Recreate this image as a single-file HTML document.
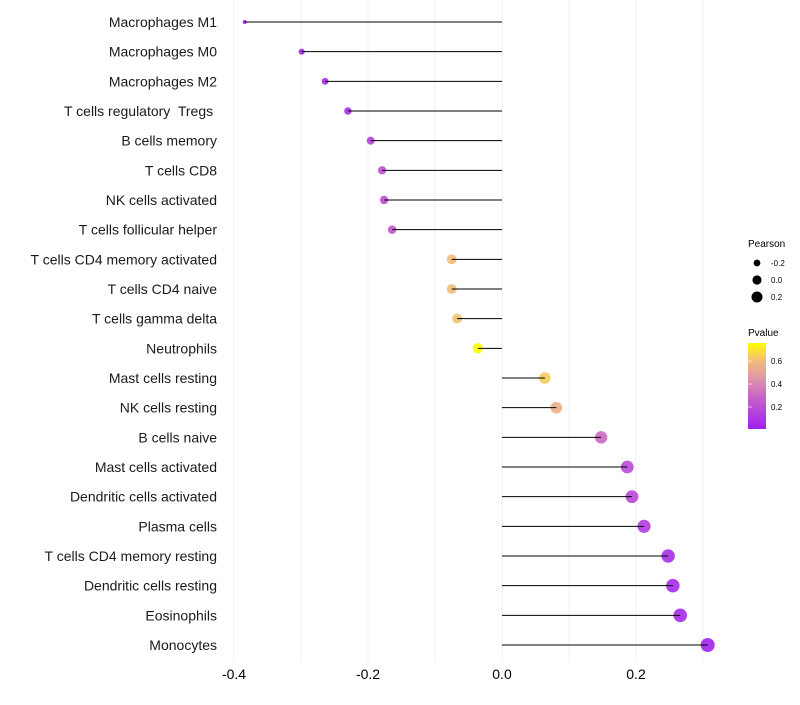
<!DOCTYPE html>
<html><head><meta charset="utf-8"><style>
body{margin:0;background:#fff;font-family:"Liberation Sans",sans-serif}
</style></head><body>
<svg id="chart" width="800" height="700" xmlns="http://www.w3.org/2000/svg">
<defs><linearGradient id="pg" x1="0" y1="1" x2="0" y2="0">
<stop offset="0" stop-color="#A020F0"/><stop offset="0.35" stop-color="#C65FC8"/><stop offset="0.6" stop-color="#E098A8"/><stop offset="0.8" stop-color="#F2BE78"/><stop offset="1" stop-color="#FFFF00"/></linearGradient></defs>
<g id="grid"></g><g id="marks"></g><g id="labels"></g><g id="legend"></g>
</svg>
<script>
const categories=["Macrophages M1","Macrophages M0","Macrophages M2","T cells regulatory  Tregs ","B cells memory","T cells CD8","NK cells activated","T cells follicular helper","T cells CD4 memory activated","T cells CD4 naive","T cells gamma delta","Neutrophils","Mast cells resting","NK cells resting","B cells naive","Mast cells activated","Dendritic cells activated","Plasma cells","T cells CD4 memory resting","Dendritic cells resting","Eosinophils","Monocytes"];
const pearson=[-0.384,-0.299,-0.264,-0.230,-0.196,-0.179,-0.176,-0.164,-0.075,-0.075,-0.067,-0.036,0.064,0.081,0.148,0.187,0.194,0.212,0.248,0.255,0.266,0.307];
const pvalue=[0.01,0.02,0.05,0.08,0.15,0.2,0.2,0.25,0.6,0.6,0.62,0.76,0.64,0.55,0.3,0.18,0.17,0.12,0.07,0.06,0.05,0.02];
const xTicks=[-0.4,-0.2,0.0,0.2];
const xTickLabels=["-0.4","-0.2","0.0","0.2"];
const NS="http://www.w3.org/2000/svg";
const x=v=>502+v*670;
const y=i=>22+i*29.667;
const pmin=0.009,pmax=0.757;
const stops=[[0,[160,32,240]],[0.35,[198,95,200]],[0.6,[224,152,168]],[0.8,[242,190,120]],[1,[255,255,0]]];
function col(p){let t=Math.max(0,Math.min(1,(p-pmin)/(pmax-pmin)));for(let k=1;k<stops.length;k++){if(t<=stops[k][0]){const a=stops[k-1],b=stops[k],f=(t-a[0])/(b[0]-a[0]);return`rgb(${a[1].map((c,j)=>Math.round(c+(b[1][j]-c)*f)).join(',')})`;}}return'rgb(255,255,0)';}
const rad=v=>Math.sqrt(Math.max(3,29+65*v));
function mk(tag,at,parent){const e=document.createElementNS(NS,tag);for(const k in at)e.setAttribute(k,at[k]);parent.appendChild(e);return e;}
const G=document.getElementById('grid'),M=document.getElementById('marks'),L=document.getElementById('labels'),LG=document.getElementById('legend');
for(let v=-0.4;v<=0.31;v+=0.1){const l=mk('line',{x1:x(v),x2:x(v),y1:0,y2:662,stroke:'#f4f4f4','stroke-width':1.2},G);

}
xTicks.forEach((t,i)=>{const tx=mk('text',{x:x(t),y:679,'text-anchor':'middle','font-size':14,fill:'#000'},L);tx.textContent=xTickLabels[i];

});
categories.forEach((c,i)=>{
const cy=y(i);
const dot=mk('circle',{cx:x(pearson[i]),cy:cy,r:rad(pearson[i]),fill:col(pvalue[i]),'fill-opacity':0.9},M);


const seg=mk('line',{x1:x(0),x2:x(pearson[i]),y1:cy,y2:cy,stroke:'#000','stroke-width':1},M);


const t=mk('text',{x:217,y:cy+5,'text-anchor':'end','font-size':14,fill:'#1a1a1a',style:'white-space:pre'},L);t.textContent=c;


});
const lt=mk('text',{x:748,y:247,'font-size':10},LG);lt.textContent='Pearson';


[-0.2,0,0.2].forEach((v,k)=>{const cy=263+k*17;const c=mk('circle',{cx:757,cy:cy,r:rad(v)*0.85,fill:'#000'},LG);


const t=mk('text',{x:771,y:cy+3,'font-size':8},LG);t.textContent=['-0.2','0.0','0.2'][k];

});
const pt=mk('text',{x:748,y:336,'font-size':10},LG);pt.textContent='Pvalue';


const bar=mk('rect',{x:748,y:343,width:18,height:86,fill:'url(#pg)'},LG);


[0.2,0.4,0.6].forEach(v=>{const yy=429-(v-pmin)/(pmax-pmin)*86;
const tk=mk('line',{x1:748,x2:752,y1:yy,y2:yy,stroke:'#fff','stroke-opacity':0.6},LG);


const t=mk('text',{x:771,y:yy+3,'font-size':8},LG);t.textContent=v.toFixed(1);

});
</script>
</body></html>
